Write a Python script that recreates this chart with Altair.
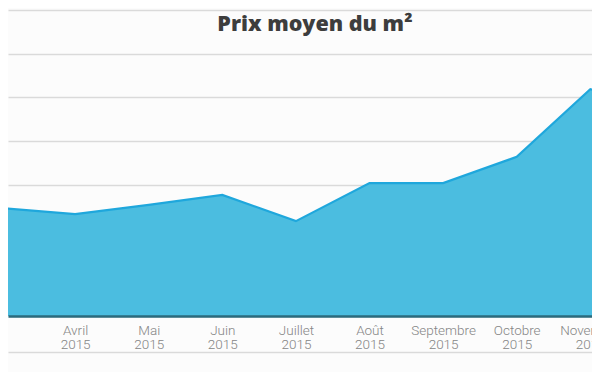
import altair as alt
import pandas as pd

# --- data ---
mois = ["Mars", "Avril", "Mai", "Juin", "Juillet", "Août",
        "Septembre", "Octobre", "Novembre", "Décembre"]
numero = [3, 4, 5, 6, 7, 8, 9, 10, 11, 12]
annee = "2015"
prix = [2.47, 2.33, 2.54, 2.77, 2.17, 3.04, 3.04, 3.64, 5.19, 4.69]
grille = [-0.824, 0, 1, 2, 3, 4, 5, 6, 7]
titre = "Prix moyen du m²"

df = pd.DataFrame({"numero": numero, "mois": mois, "prix": prix})

noms = "[" + ",".join(f"'{m}'" for m in mois) + "]"
label_expr = f"[{noms}[datum.value - {numero[0]}], '{annee}']"

x_enc = alt.X(
    "numero:Q",
    scale=alt.Scale(domain=[3.088, 11.023], nice=False, zero=False),
    axis=alt.Axis(
        values=numero, title=None, grid=False, ticks=False,
        labelExpr=label_expr, labelFlush=False, labelOverlap=False,
        labelColor="#858585", labelFont="Roboto", labelFontWeight=300,
        labelFontSize=13.5, labelPadding=7, labelLineHeight=14.5,
        labelBaseline="top",
        domainColor="#2b6b7d", domainWidth=2.5, offset=-36, zindex=1,
    ),
)
y_enc = alt.Y(
    "prix:Q",
    scale=alt.Scale(domain=[-0.824, 7], nice=False, zero=False),
    axis=alt.Axis(values=grille, title=None, labels=False, ticks=False,
                  domain=False, grid=True, gridColor="#dadada", gridWidth=1.3),
)

area = alt.Chart(df).mark_area(clip=True, color="#4bbde0", opacity=1).encode(
    x=x_enc, y=y_enc, y2=alt.datum(0)
)
line = alt.Chart(df).mark_line(clip=True, color="#1fa7dc", strokeWidth=2.2).encode(
    x="numero:Q", y="prix:Q"
)

chart = (
    alt.layer(area, line)
    .properties(
        width=584, height=342,
        title=alt.Title(titre, font="Open Sans", fontSize=21.5, fontWeight=800,
                        color="#3d3d3d", anchor="middle", offset=-25, dx=15),
        autosize=alt.AutoSizeParams(type="none"),
        padding={"left": 0, "right": 0, "top": 2, "bottom": 20},
        background="#fcfcfc",
    )
    .configure_view(stroke=None)
)

chart.save("out.html", embed_options={"renderer": "svg", "actions": False})
